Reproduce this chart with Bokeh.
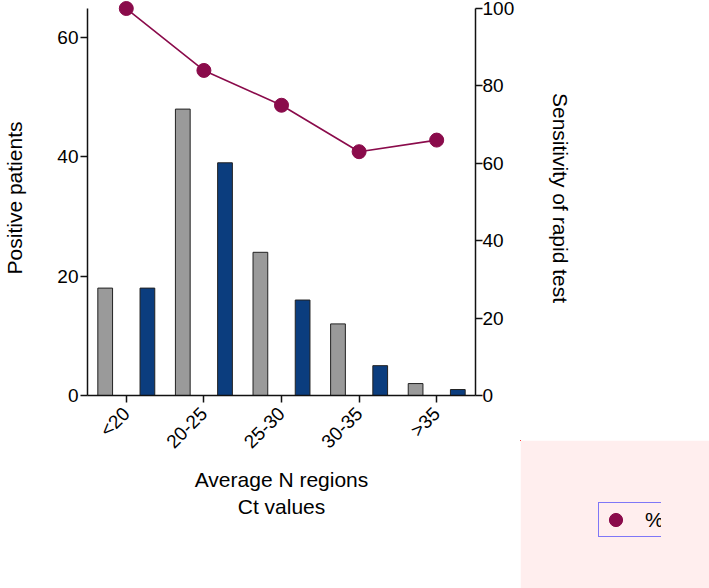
import numpy as np
from math import pi
from bokeh.plotting import figure
from bokeh.models import (Range1d, LinearAxis, FixedTicker, Legend, LegendItem, GridBox)
from bokeh.embed import file_html
from bokeh.resources import INLINE

categories = ["<20", "20-25", "25-30", "30-35", ">35"]
rt_pcr = [18, 48, 24, 12, 2]
ag = [18, 39, 16, 5, 1]
sensitivity = [100, 84, 75, 63, 66]
left_ticks = [0, 20, 40, 60]
right_ticks = [0, 20, 40, 60, 80, 100]

GRAY = "#9a9a9a"
BLUE = "#0b3d7e"
MAROON = "#8a0b4b"
EDGE = "#222222"
FONT = "Liberation Sans"

W, H = 709, 588
LX, LY = 520, 440   # where the legend layer starts
xs = np.arange(len(categories))

p = figure(width=W, height=H, output_backend="svg", toolbar_location=None,
           x_range=Range1d(-0.5, 4.5), y_range=Range1d(0, 66.2),
           min_border_left=80, min_border_right=234, min_border_top=0,
           min_border_bottom=193)
p.extra_y_ranges = {"sens": Range1d(0, 102.07)}
p.outline_line_color = None
p.xgrid.visible = False
p.ygrid.visible = False
p.background_fill_color = None
p.border_fill_color = "white"

p.vbar(x=xs - 0.272, top=rt_pcr, width=0.19, fill_color=GRAY,
       line_color=EDGE, line_width=1)
p.vbar(x=xs + 0.272, top=ag, width=0.19, fill_color=BLUE,
       line_color=EDGE, line_width=1)
p.line(x=xs, y=sensitivity, y_range_name="sens", line_color=MAROON, line_width=1.6)
p.scatter(x=xs, y=sensitivity, y_range_name="sens", size=14,
          fill_color=MAROON, line_color=MAROON)

def style_axis(ax, label_size="19px"):
    ax.axis_line_color = "#111111"
    ax.axis_line_width = 1.5
    ax.major_tick_line_color = "#111111"
    ax.major_tick_line_width = 1.5
    ax.major_tick_out = 7
    ax.major_tick_in = 0
    ax.minor_tick_line_color = None
    ax.major_label_text_font = FONT
    ax.major_label_text_font_size = label_size
    ax.major_label_text_color = "black"
    ax.axis_label_text_font = FONT
    ax.axis_label_text_font_size = "21px"
    ax.axis_label_text_font_style = "normal"
    ax.axis_label_text_color = "black"

xa = p.xaxis[0]
style_axis(xa)
xa.ticker = FixedTicker(ticks=list(xs))
xa.major_label_overrides = {int(i): c for i, c in zip(xs, categories)}
xa.major_label_orientation = pi / 4
xa.major_label_standoff = 8
xa.axis_label = "Average N regions\nCt values"
xa.axis_label_text_line_height = 1.2
xa.axis_label_standoff = 5

ya = p.yaxis[0]
style_axis(ya)
ya.ticker = FixedTicker(ticks=left_ticks)
ya.bounds = (0, 64.85)
ya.major_label_standoff = 2
ya.axis_label = "Positive patients"
ya.axis_label_standoff = 28

ra = LinearAxis(y_range_name="sens", ticker=FixedTicker(ticks=right_ticks))
style_axis(ra)
ra.bounds = (0, 100)
ra.major_label_standoff = 0
ra.axis_label = "Sensitivity of rapid test"
ra.axis_label_standoff = 32
p.add_layout(ra, "right")

# ---- legend layer ----
lf = figure(width=W - LX, height=H - LY, output_backend="svg", toolbar_location=None,
            x_range=Range1d(-20, -19), y_range=Range1d(-20, -19),
            x_axis_location=None, y_axis_location=None,
            min_border=0, min_border_left=0, min_border_right=0,
            min_border_top=0, min_border_bottom=0)
lf.outline_line_color = "red"
lf.xgrid.visible = False
lf.ygrid.visible = False
lf.background_fill_color = "#eeffee"
lf.border_fill_color = "#ffeeee"

l_pcr = lf.vbar(x=xs, top=rt_pcr, width=0.19, fill_color=GRAY,
                line_color=EDGE, line_width=1)
l_ag = lf.vbar(x=xs, top=ag, width=0.19, fill_color=BLUE,
               line_color=EDGE, line_width=1)
l_sens = lf.scatter(x=xs, y=sensitivity, size=14,
                    fill_color=MAROON, line_color=MAROON)

def make_legend(items, loc, gw, gh, standoff, spacing, lh):
    return Legend(items=items, location=loc, orientation="vertical",
                  glyph_width=gw, glyph_height=gh, label_standoff=standoff,
                  spacing=spacing, padding=0, margin=0,
                  border_line_color="blue", background_fill_color=None,
                  background_fill_alpha=0,
                  label_text_font=FONT, label_text_font_size="21px",
                  label_text_color="black", label_height=lh)

leg1 = make_legend([LegendItem(label="RT-PCR", renderers=[l_pcr]),
                    LegendItem(label="Ag", renderers=[l_ag])],
                   (28, 53), 35, 20, 13, 19, 20)
leg2 = make_legend([LegendItem(label="%sensitivity", renderers=[l_sens])],
                   (30, -3), 33, 33, 13, 0, 24)
lf.add_layout(leg1, "center")
lf.add_layout(leg2, "center")

grid = GridBox(children=[(p, 0, 0, 2, 2), (lf, 1, 1)],
               rows=[f"{LY}px", f"{H - LY}px"], cols=[f"{LX}px", f"{W - LX}px"],
               spacing=0)

open("out.html", "w").write(file_html(grid, INLINE))
